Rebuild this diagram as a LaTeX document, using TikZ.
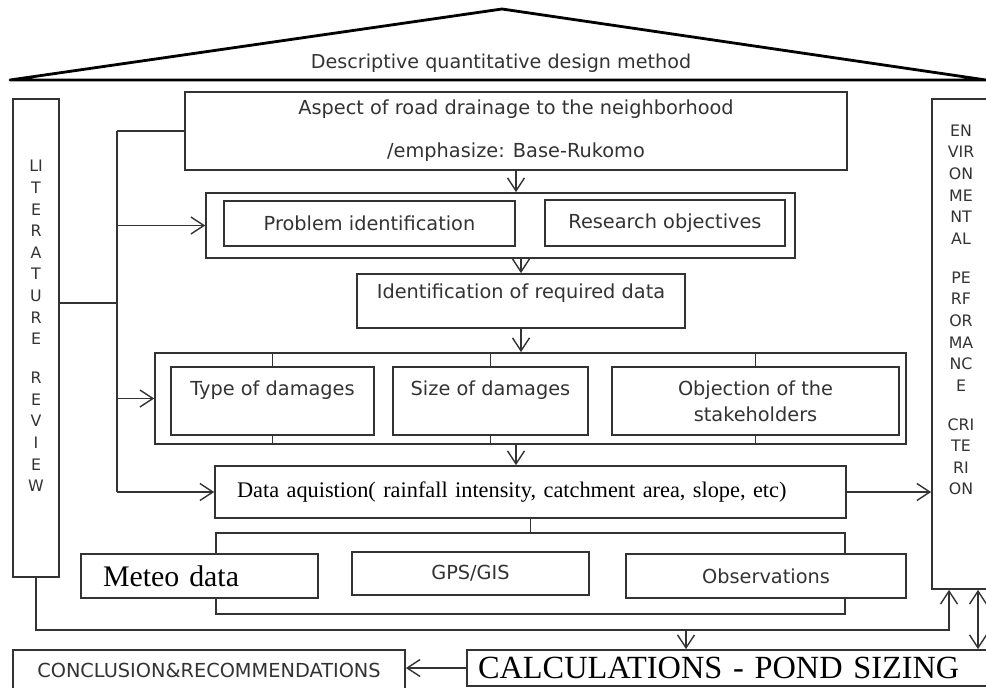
\documentclass[tikz,border=0pt]{standalone}
\usepackage{fontspec}
\usetikzlibrary{arrows.meta,positioning}
\newfontfamily\dvsans{DejaVu Sans}
\newfontfamily\tnr{Liberation Serif}
\definecolor{inkgray}{rgb}{0.2, 0.2, 0.2}

\begin{document}
\begin{tikzpicture}[x=0.02cm, y=-0.02cm, >={Straight Barb[length=2.6mm,width=3.4mm]},
    box/.style={draw=inkgray, line width=1pt, fill=white, inner sep=0pt, align=center, text=inkgray, font={\dvsans\fontsize{11}{13.5}\selectfont}},
    lift/.style={text depth=#1},
    link/.style={draw=inkgray, line width=0.8pt},
    letters/.style={inner sep=0pt, align=center, text=inkgray, font={\dvsans\fontsize{9}{12.3}\selectfont}}]
    \useasboundingbox (0,0) rectangle (986,687);
    \clip (0,0) rectangle (986,687);

    % roof
    \draw[line width=1.6pt, line join=round] (10,80) -- (502,9) -- (986,80) -- cycle;
    \node at (501,63) [text=inkgray, font={\dvsans\fontsize{10.9}{12}\selectfont}] (method) {Descriptive quantitative design method};

    % side columns
    \node at (36,338) [box, minimum width=0.92cm, minimum height=9.56cm] (lit) {};
    \node at (36,326) [letters] (littext) {LI\\T\\E\\R\\A\\T\\U\\R\\E\\[9.8pt]R\\E\\V\\I\\E\\W};
    \node at (966,344) [box, minimum width=1.36cm, minimum height=9.8cm] (env) {};
    \node at (961,310) [letters] (envtext) {EN\\VIR\\ON\\ME\\NT\\AL\\[9.8pt]PE\\RF\\OR\\MA\\NC\\E\\[9.8pt]CRI\\TE\\RI\\ON};

    % main column
    \node at (516,131) [box, minimum width=13.24cm, minimum height=1.56cm] (aspect) {Aspect of road drainage to the neighborhood\\[10.9pt]/emphasize: Base-Rukomo};
    \node at (500.5,225.5) [box, minimum width=11.78cm, minimum height=1.3cm] (probout) {};
    \node at (369.5,223.5) [box, minimum width=5.82cm, minimum height=0.9cm] (prob) {Problem identification};
    \node at (665,223) [box, minimum width=4.8cm, minimum height=0.92cm] (resobj) {Research objectives};
    \node at (521,301) [box, lift=11.5pt, minimum width=6.56cm, minimum height=1.08cm] (ident) {Identification of required data};

    \node at (530.5,398.5) [box, minimum width=15.02cm, minimum height=1.82cm] (dmgout) {};
    \node at (272.5,401) [box, lift=15pt, minimum width=4.06cm, minimum height=1.36cm] (dtype) {Type of damages};
    \node at (490.5,401) [box, lift=15pt, minimum width=3.9cm, minimum height=1.36cm] (dsize) {Size of damages};
    \node at (755.5,401) [box, minimum width=5.74cm, minimum height=1.36cm] (dobj) {Objection of the\\[1.2pt]stakeholders};
    \foreach \b in {dtype,dsize,dobj}{
        \draw[link] (\b.north) -- (\b.north |- dmgout.north);
        \draw[link] (\b.south) -- (\b.south |- dmgout.south);
    }

    \node at (530.5,492) [box, minimum height=1.04cm, inner xsep=0.44cm, text width=11.74cm, align=left, text=black, font={\tnr\fontsize{12.7}{14}\selectfont}] (dacq) {Data aquistion( rainfall intensity, catchment area, slope, etc)};

    \node at (530.5,573.5) [box, minimum width=12.58cm, minimum height=1.62cm] (srcout) {};
    \node at (199.5,576) [box, minimum height=0.88cm, inner xsep=0.44cm, text width=3.86cm, align=left, text=black, font={\tnr\fontsize{17}{18}\selectfont}] (meteo) {Meteo data};
    \node at (470.5,573.5) [box, minimum width=4.74cm, minimum height=0.86cm] (gps) {GPS/GIS};
    \node at (766,576) [box, minimum width=5.6cm, minimum height=0.88cm] (obs) {Observations};

    % bottom row
    \node at (209,670) [box, minimum width=7.84cm, minimum height=0.8cm] (conc) {CONCLUSION\&RECOMMENDATIONS};
    \node at (728.5,668) [box, minimum height=0.72cm, inner xsep=0.22cm, text width=10.02cm, align=left, text=black, font={\tnr\fontsize{18.4}{19}\selectfont}] (calc) {CALCULATIONS - POND SIZING};

    % literature branches
    \coordinate (trunk) at (117,131);
    \coordinate (tap) at (117,303);
    \draw[link] (lit.east |- tap) -- (tap);
    \draw[link] (trunk) -- (aspect.west);
    \draw[link] (trunk) -- (trunk |- dacq.west);
    \draw[link,->] (trunk |- probout.west) -- (probout.west);
    \draw[link,->] (trunk |- dmgout.west) -- (dmgout.west);
    \draw[link,->] (trunk |- dacq.west) -- (dacq.west);

    % flow down
    \draw[link,->] (aspect.south) -- (aspect.south |- probout.north);
    \draw[link,->] (ident.north |- probout.south) -- (ident.north);
    \draw[link,->] (ident.south) -- (ident.south |- dmgout.north);
    \draw[link,->] (aspect.south |- dmgout.south) -- (aspect.south |- dacq.north);
    \draw[link] (dacq.south) -- (srcout.north);
    \draw[link,->] (dacq.east) -- (dacq.east -| env.west);

    % feedback loop
    \coordinate (bus) at (949,630);
    \coordinate (drop) at (686,630);
    \coordinate (dbl) at (978,630);
    \draw[link,->] (lit.south) -- (lit.south |- bus) -- (bus) -- (bus |- env.south);
    \draw[link,->] (drop) -- (drop |- calc.north);
    \draw[link,<->] (dbl |- env.south) -- (dbl |- calc.north);
    \draw[link,->] (calc.west) -- (calc.west -| conc.east);
\end{tikzpicture}
\end{document}
